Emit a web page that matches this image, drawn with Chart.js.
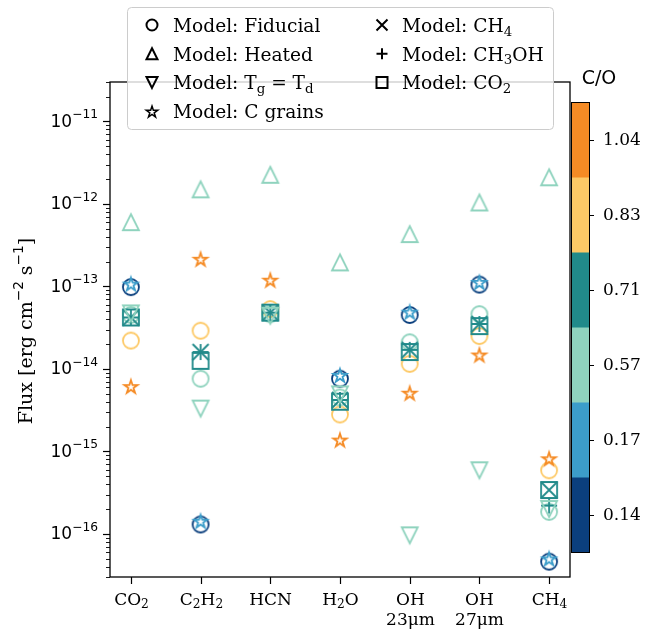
<!DOCTYPE html>
<html>
<head>
<meta charset="utf-8">
<script src="https://cdn.jsdelivr.net/npm/chart.js@4.4.1/dist/chart.umd.min.js"></script>
<style>
  html, body { margin: 0; padding: 0; background: #fff; }
  #wrap { width: 662px; height: 629px; }
</style>
</head>
<body>
<div id="wrap"><canvas id="chart-flux" width="662" height="629"></canvas></div>
<script>
// categories on the x axis ("|" = line break, "_" = subscript)
const categories = ['CO_2', 'C_2H_2', 'HCN', 'H_2O', 'OH|23μm', 'OH|27μm', 'CH_4']

// C/O values of the colour bar and their colours (bottom to top)
const coValues = [0.14, 0.17, 0.57, 0.71, 0.83, 1.04]
const coColors = ['#0b3f7d', '#3c9dca', '#8fd3be', '#218a8a', '#fdc966', '#f58b25']

// decade labels of the flux axis
const yTickExps = [-16, -15, -14, -13, -12, -11]

// line fluxes [erg cm-2 s-1], one value per category, null = no value
const fiducialCO014 = [9.8e-14, 1.3e-16, null, 7.6e-15, 4.5e-14, 1.05e-13, 4.6e-17]
const fiducialCO057 = [4.5e-14, 7.6e-15, 4.6e-14, 4.5e-15, 2.1e-14, 4.6e-14, 1.85e-16]
const fiducialCO083 = [2.2e-14, 2.9e-14, 5.3e-14, 2.8e-15, 1.15e-14, 2.5e-14, 5.9e-16]
const heatedCO057 = [6.0e-13, 1.5e-12, 2.25e-12, 1.95e-13, 4.3e-13, 1.04e-12, 2.1e-12]
const tgTdCO057 = [4.7e-14, 3.3e-15, 4.4e-14, 4.9e-15, 9.6e-17, 5.9e-16, 2.0e-16]
const cGrainsCO017 = [1.05e-13, 1.4e-16, null, 8.2e-15, 4.8e-14, 1.1e-13, 4.9e-17]
const cGrainsCO104 = [6.0e-15, 2.1e-13, 1.17e-13, 1.35e-15, 5.0e-15, 1.45e-14, 8.0e-16]
const ch4CO071 = [4.2e-14, 1.6e-14, 4.8e-14, 4.2e-15, 1.7e-14, 3.5e-14, 3.4e-16]
const ch3ohCO071 = [4.2e-14, 1.6e-14, 4.8e-14, 4.2e-15, 1.7e-14, 3.5e-14, 2.2e-16]
const co2CO071 = [4.2e-14, 1.25e-14, 4.8e-14, 4.0e-15, 1.6e-14, 3.3e-14, 3.4e-16]

// drawing order: first entry at the bottom
const series = [
  { data: fiducialCO083, shape: 'circle', co: 0.83 },
  { data: fiducialCO057, shape: 'circle', co: 0.57 },
  { data: fiducialCO014, shape: 'circle', co: 0.14 },
  { data: co2CO071, shape: 'square', co: 0.71 },
  { data: ch4CO071, shape: 'x', co: 0.71 },
  { data: ch3ohCO071, shape: 'plus', co: 0.71 },
  { data: tgTdCO057, shape: 'triDown', co: 0.57 },
  { data: heatedCO057, shape: 'triUp', co: 0.57 },
  { data: cGrainsCO104, shape: 'star', co: 1.04 },
  { data: cGrainsCO017, shape: 'star', co: 0.17 },
]

const legendItems = [
  ['circle', 'Model: Fiducial'], ['triUp', 'Model: Heated'], ['triDown', 'Model: T_g = T_d'],
  ['star', 'Model: C grains'], ['x', 'Model: CH_4'], ['plus', 'Model: CH_3OH'], ['square', 'Model: CO_2']
]

const SERIF = "'DejaVu Serif', serif"
const SANS = "'DejaVu Sans', sans-serif"

function shapePath(c, shape, s) {
  const h = s / 2
  c.beginPath()
  if (shape === 'circle') {
    c.arc(0, 0, h, 0, Math.PI * 2)
  } else if (shape === 'square') {
    c.rect(-h, -h, s, s)
  } else if (shape === 'triUp') {
    c.moveTo(0, -h); c.lineTo(h, h); c.lineTo(-h, h); c.closePath()
  } else if (shape === 'triDown') {
    c.moveTo(0, h); c.lineTo(h, -h); c.lineTo(-h, -h); c.closePath()
  } else if (shape === 'x') {
    c.moveTo(-h, -h); c.lineTo(h, h); c.moveTo(h, -h); c.lineTo(-h, h)
  } else if (shape === 'plus') {
    c.moveTo(-h, 0); c.lineTo(h, 0); c.moveTo(0, -h); c.lineTo(0, h)
  } else if (shape === 'star') {
    for (let k = 0; k < 10; k++) {
      const r = k % 2 ? h * 0.381966 : h
      const ang = -Math.PI / 2 + k * Math.PI / 5
      const px = r * Math.cos(ang), py = r * Math.sin(ang)
      k ? c.lineTo(px, py) : c.moveTo(px, py)
    }
    c.closePath()
  }
}

function drawMarker(c, shape, color, s, lw, x, y) {
  c.save()
  c.translate(x, y)
  shapePath(c, shape, s)
  c.lineWidth = lw
  c.strokeStyle = color
  c.lineJoin = 'miter'
  c.stroke()
  c.restore()
}

// hollow marker images used as point styles
function makeMarker(shape, color, s, lw) {
  const size = Math.ceil(s + lw * 2 + 4)
  const cv = document.createElement('canvas')
  cv.width = size; cv.height = size
  drawMarker(cv.getContext('2d'), shape, color, s, lw, size / 2, size / 2)
  return cv
}

// text with simple _x / _{..} / ^{..} sub- and superscripts
function parseRich(str) {
  const segs = []
  let i = 0, buf = ''
  while (i < str.length) {
    const ch = str[i]
    if (ch === '_' || ch === '^') {
      if (buf) { segs.push({ t: buf, k: 0 }); buf = '' }
      let t
      if (str[i + 1] === '{') {
        const j = str.indexOf('}', i)
        t = str.slice(i + 2, j); i = j + 1
      } else { t = str[i + 1]; i += 2 }
      segs.push({ t, k: ch === '_' ? -1 : 1 })
    } else { buf += ch; i++ }
  }
  if (buf) segs.push({ t: buf, k: 0 })
  return segs
}

function drawRich(c, str, x, y, size, family, align, subFamily) {
  const segs = parseRich(str)
  const small = size * 0.72
  let w = 0
  segs.forEach(sg => {
    c.font = (sg.k ? small : size) + 'px ' + (sg.k ? (subFamily || family) : family)
    sg.w = c.measureText(sg.t).width
    w += sg.w
  })
  let cx = align === 'right' ? x - w : align === 'center' ? x - w / 2 : x
  c.textAlign = 'left'
  c.textBaseline = 'alphabetic'
  segs.forEach(sg => {
    c.font = (sg.k ? small : size) + 'px ' + (sg.k ? (subFamily || family) : family)
    const dy = sg.k === -1 ? size * 0.2 : sg.k === 1 ? -size * 0.5 : 0
    c.fillText(sg.t, cx, y + dy)
    cx += sg.w
  })
  return w
}

const coColor = co => coColors[coValues.indexOf(co)]

const datasets = series.map((s, idx) => ({
  data: s.data.map((v, i) => (v == null ? null : { x: i, y: v })).filter(p => p),
  pointStyle: makeMarker(s.shape, coColor(s.co), s.shape === 'star' ? 14 : 16, 1.8),
  pointRadius: 8,
  pointHoverRadius: 8,
  showLine: false,
  order: series.length - idx
}))

const decor = {
  id: 'decor',
  afterDraw(chart) {
    const { ctx: c, chartArea: a, scales: { x, y } } = chart
    c.save()
    c.fillStyle = '#000'
    c.strokeStyle = '#000'

    // y ticks, major + minor
    for (let d = -17; d <= -11; d++) {
      for (let m = 1; m <= 9; m++) {
        const v = m * Math.pow(10, d)
        if (v < y.min || v > y.max) continue
        const py = Math.round(y.getPixelForValue(v)) + 0.5
        c.lineWidth = m === 1 ? 1.2 : 0.9
        c.beginPath(); c.moveTo(a.left - (m === 1 ? 7 : 4), py); c.lineTo(a.left, py); c.stroke()
      }
    }
    yTickExps.forEach(e => {
      const py = y.getPixelForValue(Math.pow(10, e))
      drawRich(c, '10^{−' + Math.abs(e) + '}', a.left - 12, py + 5.5, 17, SANS, 'right')
    })

    // x ticks and labels
    categories.forEach((lab, i) => {
      const px = Math.round(x.getPixelForValue(i)) + 0.5
      c.lineWidth = 1.2
      c.beginPath(); c.moveTo(px, a.bottom); c.lineTo(px, a.bottom + 7); c.stroke()
      lab.split('|').forEach((ln, k) => drawRich(c, ln, px, 605 + k * 20, 17, SERIF, 'center'))
    })

    // axis frame
    c.lineWidth = 1.3
    c.strokeRect(a.left, a.top, a.right - a.left, a.bottom - a.top)

    // y label
    c.save()
    c.translate(25, 331)
    c.rotate(-Math.PI / 2)
    drawRich(c, 'Flux [erg cm^{−2} s^{−1}]', 0, 7, 19, SERIF, 'center', SANS)
    c.restore()

    // colour bar
    const cbL = a.right + 1, cbW = 18, cbT = 102, cbB = 552
    const segH = (cbB - cbT) / coValues.length
    coValues.forEach((co, i) => {
      const top = cbB - (i + 1) * segH
      c.fillStyle = coColors[i]
      c.fillRect(cbL, top, cbW, segH + 0.5)
      const ty = Math.round(top + segH / 2) + 0.5
      c.strokeStyle = '#000'; c.lineWidth = 1
      c.beginPath(); c.moveTo(cbL + cbW, ty); c.lineTo(cbL + cbW + 5, ty); c.stroke()
      c.fillStyle = '#000'
      c.font = '17px ' + SERIF
      c.textAlign = 'left'; c.textBaseline = 'middle'
      c.fillText(co.toFixed(2), cbL + cbW + 14, ty)
    })
    c.strokeStyle = '#000'; c.lineWidth = 1
    c.strokeRect(cbL + 0.5, cbT + 0.5, cbW, cbB - cbT)
    c.fillStyle = '#000'
    c.font = '19px ' + SANS
    c.textAlign = 'center'; c.textBaseline = 'alphabetic'
    c.fillText('C/O', cbL + 28, 84)

    // legend
    const lx = 127, ly = 7, lw = 426, lh = 122
    c.beginPath()
    c.roundRect(lx + 0.5, ly + 0.5, lw, lh, 4)
    c.fillStyle = 'rgba(255,255,255,0.8)'
    c.fill()
    c.strokeStyle = '#cccccc'; c.lineWidth = 1
    c.stroke()
    legendItems.forEach(([shape, text], i) => {
      const col = i < 4 ? 0 : 1
      const row = i < 4 ? i : i - 4
      const cy = 25 + row * 28.7
      const mx = col ? 382 : 152
      if (shape === 'star') drawMarker(c, shape, '#000', 12, 1.5, mx, cy + 1)
      else drawMarker(c, shape, '#000', 11, 2, mx, cy)
      c.fillStyle = '#000'
      drawRich(c, text, col ? 402 : 173, cy + 7, 18.6, SERIF, 'left')
    })
    c.restore()
  }
}

new Chart(document.getElementById('chart-flux'), {
  type: 'scatter',
  data: { datasets },
  options: {
    responsive: false,
    animation: false,
    layout: { padding: { top: 82, right: 92, left: 0, bottom: 0 } },
    plugins: { legend: { display: false }, tooltip: { enabled: false } },
    scales: {
      x: {
        type: 'linear', min: -0.3, max: 6.3,
        afterFit: s => { s.height = 52 },
        ticks: { display: false },
        grid: { display: false },
        border: { display: false }
      },
      y: {
        type: 'logarithmic', min: 3e-17, max: 3e-11,
        afterFit: s => { s.width = 110 },
        ticks: { display: false },
        grid: { display: false },
        border: { display: false }
      }
    }
  },
  plugins: [decor]
})
</script>
</body>
</html>
